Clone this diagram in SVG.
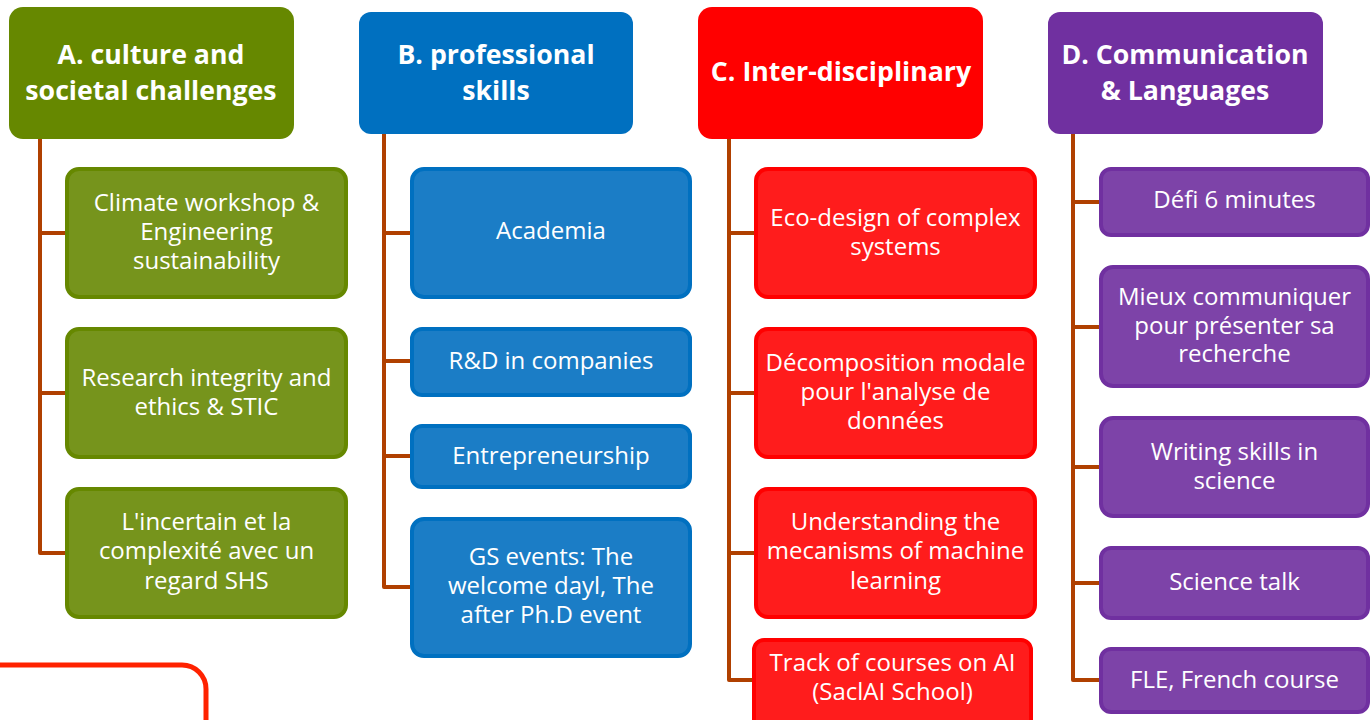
<svg xmlns="http://www.w3.org/2000/svg" width="1370" height="720" viewBox="0 0 1370 720">
<style>
text{font-family:"Open Sans","Noto Sans","Liberation Sans",sans-serif;fill:#ffffff;text-anchor:middle}
.h{font-size:26.7px;font-weight:700}
.c{font-size:24px}
.conn{fill:none;stroke:#b04000;stroke-width:4;stroke-linejoin:round}
.ca{fill:#76941c;stroke:#668800;stroke-width:4}
.cb{fill:#1b7dc6;stroke:#0070c0;stroke-width:4}
.cc{fill:#ff1c1c;stroke:#ff0000;stroke-width:4}
.cd{fill:#7d43a8;stroke:#7030a0;stroke-width:4}
</style>
<rect width="1370" height="720" fill="#ffffff"/>
<g id="connectors" class="conn">
<path d="M40 139 V553 H67 M40 233 H67 M40 393 H67"/>
<path d="M384 134 V587 H412 M384 233 H412 M384 361 H412 M384 456 H412"/>
<path d="M729 139 V680 H754 M729 233 H756 M729 393 H756 M729 553 H756"/>
<path d="M1073 134 V680 H1101 M1073 202 H1101 M1073 327 H1101 M1073 467 H1101 M1073 583 H1101"/>
</g>
<g id="outline"><path d="M-10 665 H182 A24 24 0 0 1 206 689 V730" fill="none" stroke="#ff2200" stroke-width="5"/></g>
<g id="headA"><rect x="9" y="7" width="285" height="132" rx="14" fill="#668800"/><text class="h" x="151" y="64">A. culture and</text><text class="h" x="151" y="100">societal challenges</text></g>
<g id="headB"><rect x="359" y="12" width="274" height="122" rx="12" fill="#0070c0"/><text class="h" x="496" y="64">B. professional</text><text class="h" x="496" y="100">skills</text></g>
<g id="headC"><rect x="698" y="7" width="285" height="132" rx="14" fill="#ff0000"/><text class="h" x="841" y="81">C. Inter-disciplinary</text></g>
<g id="headD"><rect x="1048" y="12" width="275" height="122" rx="12" fill="#7030a0"/><text class="h" x="1185" y="64">D. Communication</text><text class="h" x="1185" y="100">&amp; Languages</text></g>
<g id="a1"><rect class="ca" x="67" y="169" width="279" height="128" rx="12"/><text class="c" x="206.5" y="211">Climate workshop &amp;</text><text class="c" x="206.5" y="240">Engineering</text><text class="c" x="206.5" y="269">sustainability</text></g>
<g id="a2"><rect class="ca" x="67" y="329" width="279" height="128" rx="12"/><text class="c" x="206.5" y="386">Research integrity and</text><text class="c" x="206.5" y="415">ethics &amp; STIC</text></g>
<g id="a3"><rect class="ca" x="67" y="489" width="279" height="128" rx="12"/><text class="c" x="206.5" y="530">L'incertain et la</text><text class="c" x="206.5" y="559">complexité avec un</text><text class="c" x="206.5" y="589">regard SHS</text></g>
<g id="b1"><rect class="cb" x="412" y="169" width="278" height="128" rx="12"/><text class="c" x="551" y="239">Academia</text></g>
<g id="b2"><rect class="cb" x="412" y="329" width="278" height="66" rx="10"/><text class="c" x="551" y="369">R&amp;D in companies</text></g>
<g id="b3"><rect class="cb" x="412" y="426" width="278" height="61" rx="10"/><text class="c" x="551" y="464">Entrepreneurship</text></g>
<g id="b4"><rect class="cb" x="412" y="519" width="278" height="137" rx="12"/><text class="c" x="551" y="565">GS events: The</text><text class="c" x="551" y="594">welcome dayl, The</text><text class="c" x="551" y="623">after Ph.D event</text></g>
<g id="c1"><rect class="cc" x="756" y="169" width="279" height="128" rx="12"/><text class="c" x="895.5" y="226">Eco-design of complex</text><text class="c" x="895.5" y="255">systems</text></g>
<g id="c2"><rect class="cc" x="756" y="329" width="279" height="128" rx="12"/><text class="c" x="895.5" y="371">Décomposition modale</text><text class="c" x="895.5" y="400">pour l'analyse de</text><text class="c" x="895.5" y="429">données</text></g>
<g id="c3"><rect class="cc" x="756" y="489" width="279" height="128" rx="12"/><text class="c" x="895.5" y="530">Understanding the</text><text class="c" x="895.5" y="559">mecanisms of machine</text><text class="c" x="895.5" y="589">learning</text></g>
<g id="c4"><rect class="cc" x="754" y="640" width="277" height="95" rx="10"/><text class="c" x="892.5" y="671">Track of courses on AI</text><text class="c" x="892.5" y="700">(SaclAI School)</text></g>
<g id="d1"><rect class="cd" x="1101" y="169" width="267" height="66" rx="10"/><text class="c" x="1234.5" y="208">Défi 6 minutes</text></g>
<g id="d2"><rect class="cd" x="1101" y="267" width="267" height="119" rx="12"/><text class="c" x="1234.5" y="305">Mieux communiquer</text><text class="c" x="1234.5" y="334">pour présenter sa</text><text class="c" x="1234.5" y="362">recherche</text></g>
<g id="d3"><rect class="cd" x="1101" y="418" width="267" height="98" rx="12"/><text class="c" x="1234.5" y="460">Writing skills in</text><text class="c" x="1234.5" y="489">science</text></g>
<g id="d4"><rect class="cd" x="1101" y="548" width="267" height="70" rx="10"/><text class="c" x="1234.5" y="590">Science talk</text></g>
<g id="d5"><rect class="cd" x="1101" y="649" width="267" height="63" rx="10"/><text class="c" x="1234.5" y="688">FLE, French course</text></g>
</svg>
